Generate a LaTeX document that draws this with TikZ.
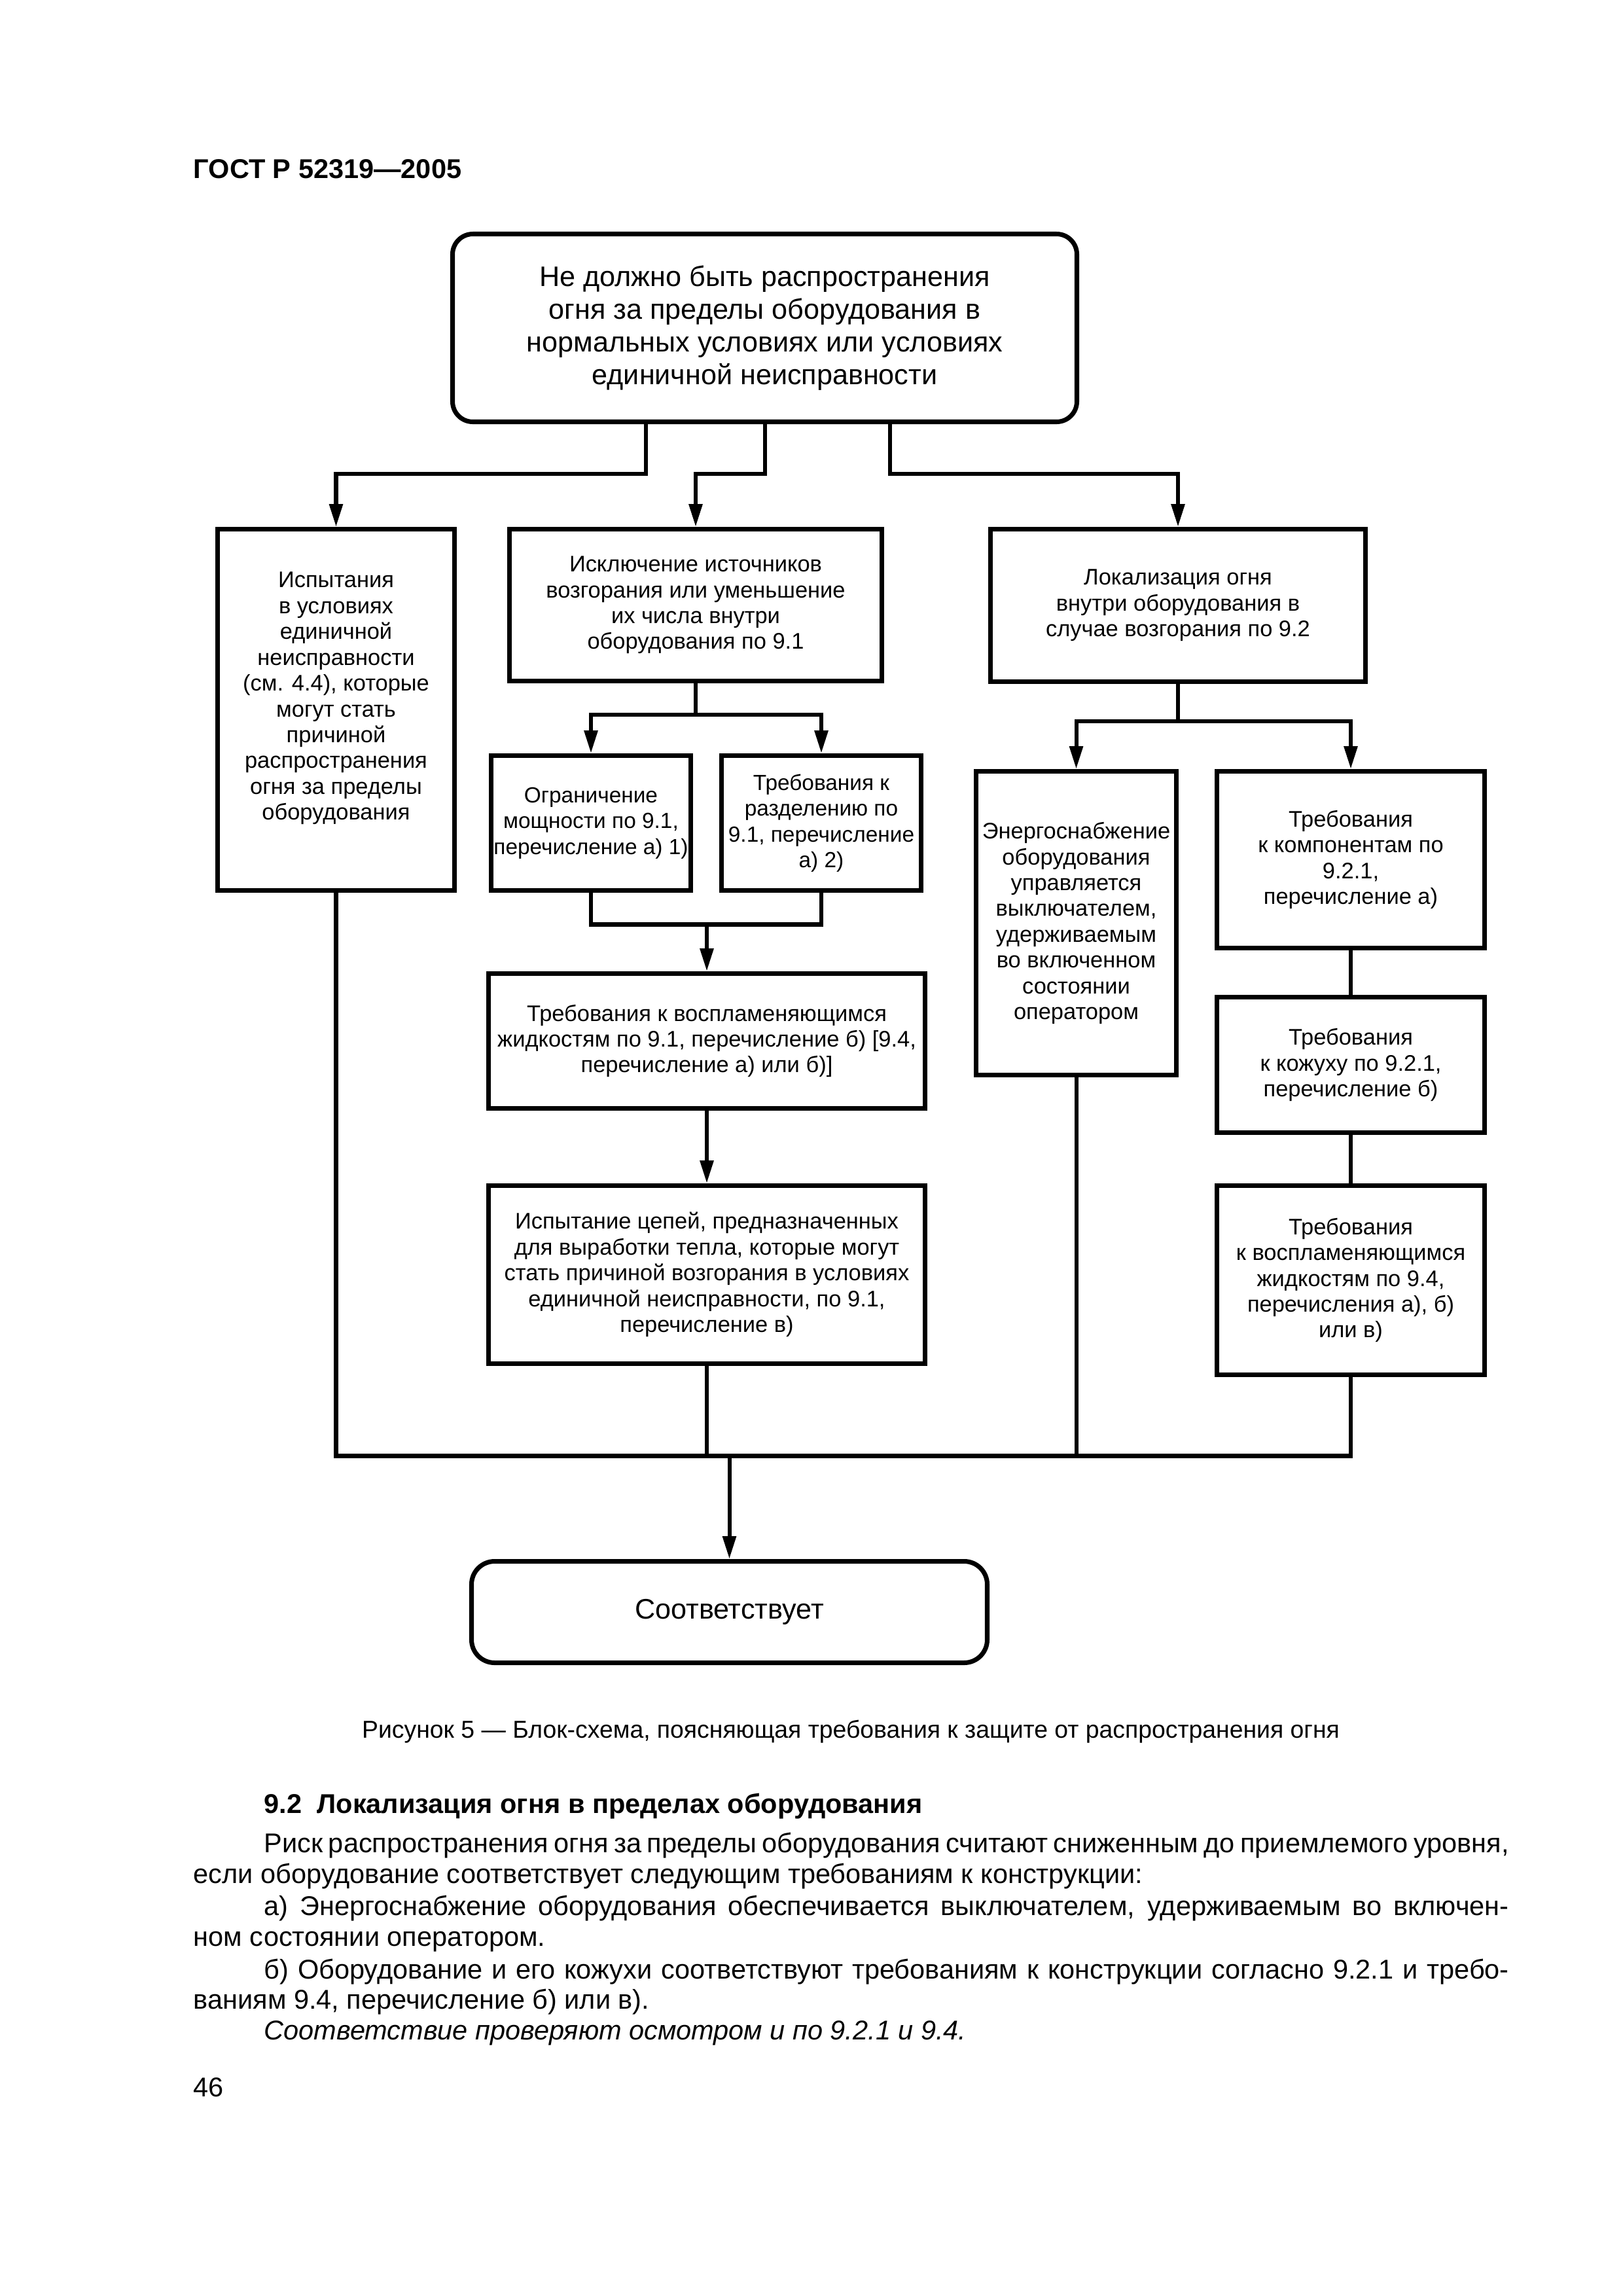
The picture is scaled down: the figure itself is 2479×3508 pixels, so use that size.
\documentclass[tikz,border=0pt]{standalone}
\usepackage{fontspec}
\setmainfont{Liberation Sans}
\usetikzlibrary{arrows.meta,calc}
\begin{document}
\begin{tikzpicture}[x=0.241028pt,y=-0.241028pt,
  sz/.style 2 args={minimum width=#1*0.241028pt, minimum height=#2*0.241028pt},
  bx/.style={draw, line width=1.7pt, inner sep=0pt, align=center, font=\fontsize{8.3}{9.5}\selectfont},
  smallbx/.style={bx, font=\fontsize{8.05}{9.5}\selectfont},
  rbx/.style={bx, rounded corners=7.5pt, font=\fontsize{10.4}{12.05}\selectfont},
  boxtext/.style={inner sep=0pt, align=center, font=\fontsize{8.3}{9.5}\selectfont},
  ln/.style={line width=1.45pt, line join=miter},
  arr/.style={ln, -{Triangle[length=8.4pt,width=4.8pt]}},
  plain/.style={inner sep=0pt, anchor=base west, font=\fontsize{10}{12}\selectfont}
]
\fill[white] (0,0) rectangle (2479,3508);
\useasboundingbox (0,0) rectangle (2479,3508);

% header
\node[plain, font=\fontsize{10}{12}\selectfont\bfseries] (hdr) at (295,272) {ГОСТ Р 52319—2005};

% boxes
\node[rbx, sz={954}{287}] (top) at (1168.5,501) {Не должно быть распространения\\огня за пределы оборудования в\\нормальных условиях или условиях\\единичной неисправности};

\node[bx, sz={362}{552}] (L) at (513.5,1084.5) {};
\node[boxtext] (Lt) at (513.5,1067) {Испытания\\в условиях\\единичной\\неисправности\\(см. 4.4), которые\\могут стать\\причиной\\распространения\\огня за пределы\\оборудования};

\node[bx, sz={569}{232}] (M) at (1063,924.5) {Исключение источников\\возгорания или уменьшение\\их числа внутри\\оборудования по 9.1};
\node[bx, sz={573}{233}] (R) at (1800,925) {Локализация огня\\внутри оборудования в\\случае возгорания по 9.2};

\node[smallbx, sz={305}{206}] (M1) at (903,1257.5) {Ограничение\\мощности по 9.1,\\перечисление а) 1)};
\node[smallbx, sz={305}{206}] (M2) at (1255,1257.5) {Требования к\\разделению по\\9.1, перечисление\\а) 2)};
\node[bx, sz={667}{206}] (M3) at (1080,1590.5) {Требования к воспламеняющимся\\жидкостям по 9.1, перечисление б) [9.4,\\перечисление а) или б)]};
\node[bx, sz={667}{272}] (M4) at (1080,1947.5) {Испытание цепей, предназначенных\\для выработки тепла, которые могут\\стать причиной возгорания в условиях\\единичной неисправности, по 9.1,\\перечисление в)};

\node[bx, sz={306}{464}] (R1) at (1644.5,1410.5) {Энергоснабжение\\оборудования\\управляется\\выключателем,\\удерживаемым\\во включенном\\состоянии\\оператором};
\node[bx, sz={409}{270}] (R2) at (2064,1313.5) {Требования\\к компонентам по\\9.2.1,\\перечисление а)};
\node[bx, sz={409}{207}] (R3) at (2064,1627) {Требования\\к кожуху по 9.2.1,\\перечисление б)};
\node[bx, sz={409}{289}] (R4) at (2064,1956) {Требования\\к воспламеняющимся\\жидкостям по 9.4,\\перечисления а), б)\\или в)};

\node[rbx, rounded corners=8.5pt, sz={788}{155}] (end) at (1114.5,2463) {Соответствует};

% connectors from top box
\draw[arr] ($(top.south)+(-181.5,0)$) -- ++(0,75.5) -| (L.north);
\draw[arr] (top.south) -- ++(0,75.5) -| (M.north);
\draw[arr] ($(top.south)+(191.5,0)$) -- ++(0,75.5) -| (R.north);

% middle column
\draw[ln] (M.south) -- ++(0,48) coordinate (mj);
\draw[arr] (mj) -| (M1.north);
\draw[arr] (mj) -| (M2.north);
\coordinate (mj2) at ($(M3.north)+(0,-71.5)$);
\draw[ln] (M1.south) |- (mj2);
\draw[ln] (M2.south) |- (mj2);
\draw[arr] (mj2) -- (M3.north);
\draw[arr] (M3.south) -- (M4.north);

% right column
\draw[ln] (R.south) -- ++(0,56.5) coordinate (rj);
\draw[arr] (rj) -| (R1.north);
\draw[arr] (rj) -| (R2.north);
\draw[ln] (R2.south) -- (R3.north);
\draw[ln] (R3.south) -- (R4.north);

% collecting line
\coordinate (bj) at ($(end.north)+(0,-157.5)$);
\draw[ln] (L.south) |- (bj) -| (R4.south);
\draw[ln] (M4.south) -- (M4.south |- bj);
\draw[ln] (R1.south) -- (R1.south |- bj);
\draw[arr] (bj) -- (end.north);

% caption
\node[inner sep=0pt, anchor=base, font=\fontsize{9}{11}\selectfont] (cap) at (1300,2655) {Рисунок 5 — Блок-схема, поясняющая требования к защите от распространения огня};

% section text
\node[plain, font=\fontsize{10}{12}\selectfont\bfseries] (sec) at (403,2770) {9.2\ \ Локализация огня в пределах оборудования};
\node[plain] (p1) at (403,2830) {\makebox[458.4pt][s]{Риск распространения огня за пределы оборудования считают сниженным до приемлемого уровня,}};
\node[plain] (p2) at (295,2877) {если оборудование соответствует следующим требованиям к конструкции:};
\node[plain] (p3) at (403,2926) {\makebox[458.4pt][s]{а) Энергоснабжение оборудования обеспечивается выключателем, удерживаемым во включен-}};
\node[plain] (p4) at (295,2973) {ном состоянии оператором.};
\node[plain] (p5) at (403,3023) {\makebox[458.4pt][s]{б) Оборудование и его кожухи соответствуют требованиям к конструкции согласно 9.2.1 и требо-}};
\node[plain] (p6) at (295,3069) {ваниям 9.4, перечисление б) или в).};
\node[plain, font=\fontsize{10}{12}\selectfont\itshape] (p7) at (403,3116) {Соответствие проверяют осмотром и по 9.2.1 и 9.4.};

\node[plain] (pg) at (295,3203) {46};
\end{tikzpicture}
\end{document}
